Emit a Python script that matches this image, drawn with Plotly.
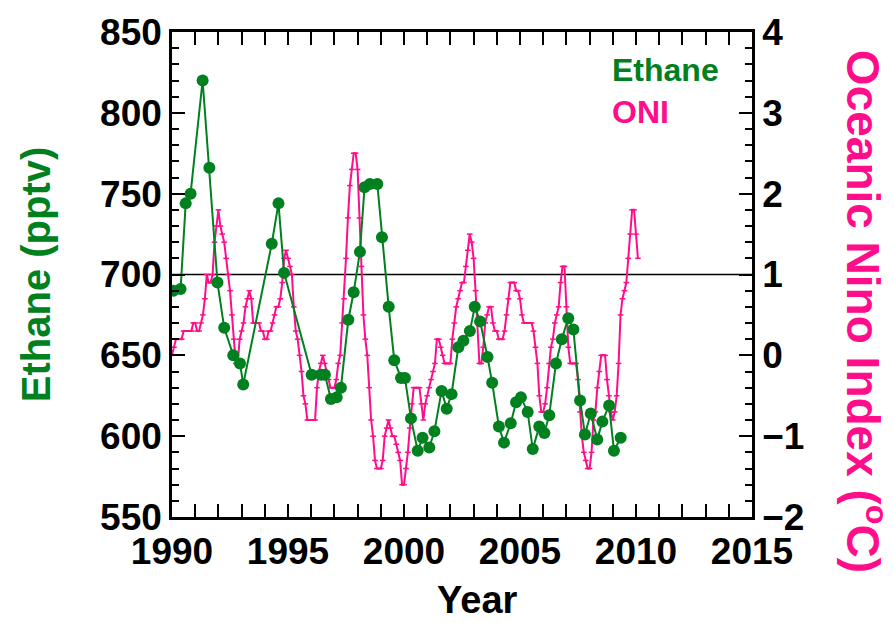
import numpy as np
import plotly.graph_objects as go

# Ethane mixing ratios (pptv), sampled at decimal years
ethane_year = [1990.06, 1990.37, 1990.59, 1990.80, 1991.32, 1991.61, 1991.96, 1992.25,
               1992.64, 1992.93, 1993.07, 1994.30, 1994.59, 1994.83, 1996.02, 1996.42,
               1996.59, 1996.85, 1997.10, 1997.28, 1997.60, 1997.83, 1998.10, 1998.30,
               1998.53, 1998.85, 1999.05, 1999.34, 1999.58, 1999.87, 2000.04, 2000.30,
               2000.59, 2000.80, 2001.09, 2001.31, 2001.62, 2001.84, 2002.05, 2002.34,
               2002.56, 2002.84, 2003.05, 2003.28, 2003.60, 2003.80, 2004.09, 2004.31,
               2004.60, 2004.83, 2005.04, 2005.33, 2005.55, 2005.83, 2006.05, 2006.26,
               2006.55, 2006.80, 2007.08, 2007.30, 2007.59, 2007.80, 2008.05, 2008.33,
               2008.55, 2008.84, 2009.05, 2009.34]
ethane_pptv = [690, 691, 744, 750, 820, 766, 695, 667,
               650, 645, 632, 719, 744, 701, 638, 638,
               638, 623, 624, 630, 672, 689, 714, 754,
               756, 756, 723, 680, 647, 636, 636, 611,
               591, 599, 593, 603, 628, 617, 626, 655,
               659, 665, 680, 671, 649, 633, 606, 596,
               608, 621, 624, 615, 592, 606, 602, 613,
               645, 660, 673, 666, 622, 601, 614, 598,
               609, 619, 591, 599]

# Oceanic Nino Index, monthly from January 1990
oni_start = 1990.0
oni = [0.0, 0.1, 0.2, 0.2, 0.2, 0.2, 0.3, 0.3, 0.3, 0.3, 0.3, 0.4,
       0.4, 0.3, 0.3, 0.4, 0.5, 0.7, 1.0, 0.9, 0.9, 1.0, 1.4, 1.6,
       1.8, 1.6, 1.5, 1.4, 1.2, 1.0, 0.8, 0.5, 0.2, -0.1, -0.1, 0.2,
       0.3, 0.4, 0.6, 0.7, 0.8, 0.7, 0.4, 0.4, 0.4, 0.4, 0.3, 0.3,
       0.2, 0.2, 0.3, 0.3, 0.4, 0.5, 0.6, 0.6, 0.7, 0.9, 1.2, 1.3,
       1.2, 1.1, 1.0, 0.6, 0.3, 0.2, 0.0, -0.2, -0.5, -0.6, -0.8, -0.8,
       -0.8, -0.8, -0.8, -0.4, -0.2, -0.1, 0.0, -0.1, -0.2, -0.3, -0.4, -0.4,
       -0.4, -0.3, -0.1, 0.0, 0.4, 0.7, 1.2, 1.7, 2.1, 2.3, 2.5, 2.5,
       2.3, 1.7, 1.1, 0.5, 0.2, 0.0, -0.4, -0.8, -1.0, -1.3, -1.4, -1.4,
       -1.4, -1.3, -1.0, -0.9, -0.8, -0.9, -1.0, -1.0, -1.1, -1.2, -1.3, -1.6,
       -1.6, -1.4, -1.2, -0.9, -0.6, -0.4, -0.4, -0.4, -0.4, -0.6, -0.8, -0.6,
       -0.5, -0.4, -0.3, -0.2, -0.1, 0.2, 0.2, 0.1, 0.0, -0.1, -0.1, -0.1,
       -0.1, 0.2, 0.4, 0.6, 0.7, 0.8, 0.9, 0.9, 1.1, 1.3, 1.5, 1.4,
       1.2, 0.8, 0.4, -0.1, -0.1, 0.1, 0.4, 0.5, 0.6, 0.6, 0.4, 0.3,
       0.3, 0.2, 0.2, 0.2, 0.3, 0.5, 0.7, 0.9, 0.9, 0.9, 0.8, 0.8,
       0.7, 0.5, 0.4, 0.4, 0.4, 0.4, 0.4, 0.3, 0.1, -0.1, -0.5, -0.7,
       -0.7, -0.6, -0.4, -0.1, 0.1, 0.2, 0.4, 0.5, 0.6, 0.9, 1.1, 1.1,
       0.6, 0.1, -0.1, -0.1, -0.1, -0.1, -0.3, -0.7, -1.0, -1.2, -1.3, -1.4,
       -1.4, -1.2, -0.8, -0.7, -0.4, -0.2, 0.0, 0.0, 0.0, -0.3, -0.5, -0.7,
       -0.8, -0.7, -0.5, -0.1, 0.5, 0.7, 0.8, 0.9, 1.2, 1.5, 1.8, 1.8,
       1.5, 1.2]
oni_year = oni_start + np.arange(len(oni)) / 12.0

GREEN = "#00801E"
PINK = "#FF0D8A"
FONT = "Liberation Sans, Arial, sans-serif"

fig = go.Figure()

# ONI on the primary (right-hand) axis, drawn underneath
fig.add_trace(go.Scatter(
    x=oni_year, y=oni, mode="lines+markers", name="ONI",
    line=dict(color=PINK, width=2),
    marker=dict(symbol="line-ew", size=4, color=PINK, line=dict(color=PINK, width=1.5)),
    xaxis="x", yaxis="y",
))
# Ethane on the overlaying (left-hand) axis, drawn on top
fig.add_trace(go.Scatter(
    x=ethane_year, y=ethane_pptv, mode="lines+markers", name="Ethane",
    line=dict(color=GREEN, width=2),
    marker=dict(symbol="circle", size=12, color=GREEN),
    xaxis="x", yaxis="y2",
))

tickfont = dict(family=FONT, size=37, color="black", weight="bold")
common = dict(
    showgrid=False, zeroline=False, showline=True, linecolor="black", linewidth=2.5,
    ticks="inside", ticklen=13, tickwidth=2, tickcolor="black", tickfont=tickfont,
)

fig.update_layout(
    width=894, height=623,
    margin=dict(l=172, r=142, t=32, b=106),
    paper_bgcolor="white", plot_bgcolor="white",
    showlegend=False,
    xaxis=dict(range=[1990, 2015], tick0=1990, dtick=5, mirror="allticks",
               minor=dict(dtick=1, ticklen=7, tickwidth=2, tickcolor="black", ticks="inside"),
               **common),
    yaxis=dict(range=[-2, 4], dtick=1, side="right",
               minor=dict(dtick=0.2, ticklen=7, tickwidth=2, tickcolor="black", ticks="inside"),
               **common),
    yaxis2=dict(range=[550, 850], dtick=50, side="left", overlaying="y",
                minor=dict(dtick=10, ticklen=7, tickwidth=2, tickcolor="black", ticks="inside"),
                **common),
    shapes=[dict(type="line", xref="paper", x0=0, x1=1, yref="y2", y0=700, y1=700,
                 line=dict(color="black", width=1.5), layer="below")],
    annotations=[
        dict(text="Year", xref="paper", yref="paper", x=0.526, y=-0.2186, xanchor="center",
             yanchor="bottom", showarrow=False,
             font=dict(family=FONT, size=38, color="black", weight="bold")),
        dict(text="Ethane (pptv)", xref="paper", yref="paper", x=-0.235, y=0.5,
             xanchor="center", yanchor="middle", textangle=-90, showarrow=False,
             font=dict(family=FONT, size=40, color=GREEN, weight="bold")),
        dict(text="Oceanic Nino Index (<sup>o</sup>C)", xref="paper", yref="paper",
             x=1.1966, y=0.425, xanchor="center", yanchor="middle", textangle=90,
             showarrow=False,
             font=dict(family=FONT, size=46, color=PINK, weight="bold")),
        dict(text="Ethane", xref="paper", yref="paper", x=0.755, y=0.9216,
             xanchor="left", yanchor="middle", showarrow=False,
             font=dict(family=FONT, size=32, color=GREEN, weight="bold")),
        dict(text="ONI", xref="paper", yref="paper", x=0.755, y=0.835,
             xanchor="left", yanchor="middle", showarrow=False,
             font=dict(family=FONT, size=32, color=PINK, weight="bold")),
    ],
)

fig.write_html("out.html")
